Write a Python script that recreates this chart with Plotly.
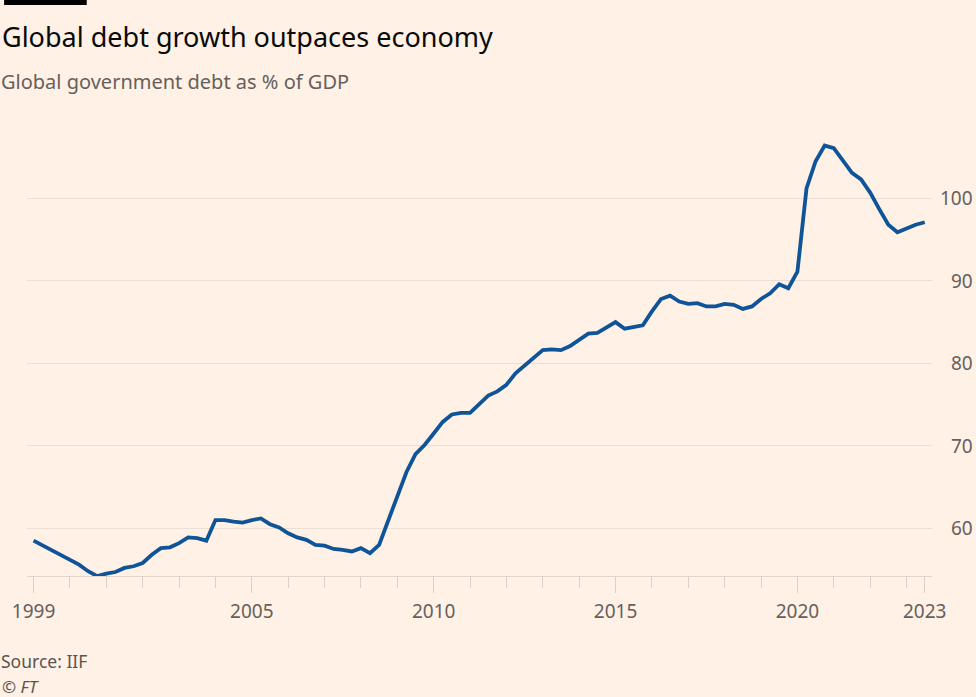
import plotly.graph_objects as go

# ---- data ----
years = list(range(1999, 2024))
debt_pct_gdp = [
    58.5, 57.9, 57.3, 56.8,   # 1999
    56.2, 55.6, 54.8, 54.2,   # 2000
    54.5, 54.7, 55.2, 55.4,   # 2001
    55.8, 56.8, 57.6, 57.7,   # 2002
    58.2, 58.9, 58.8, 58.5,   # 2003
    61.0, 61.0, 60.8, 60.7,   # 2004
    61.0, 61.2, 60.5, 60.1,   # 2005
    59.4, 58.9, 58.6, 58.0,   # 2006
    57.9, 57.5, 57.4, 57.2,   # 2007
    57.6, 57.0, 58.0, 61.0,   # 2008
    63.8, 66.8, 69.0, 70.1,   # 2009
    71.5, 72.9, 73.8, 74.0,   # 2010
    74.0, 75.0, 76.1, 76.6,   # 2011
    77.4, 78.8, 79.7, 80.6,   # 2012
    81.6, 81.7, 81.6, 82.1,   # 2013
    82.8, 83.6, 83.7, 84.3,   # 2014
    85.0, 84.2, 84.4, 84.6,   # 2015
    86.3, 87.8, 88.2, 87.5,   # 2016
    87.2, 87.3, 86.9, 86.9,   # 2017
    87.2, 87.1, 86.6, 86.9,   # 2018
    87.8, 88.5, 89.6, 89.1,   # 2019
    91.1, 101.2, 104.5, 106.4,  # 2020
    106.1, 104.6, 103.1, 102.3,  # 2021
    100.7, 98.7, 96.8, 95.9,   # 2022
    96.4, 96.8, 97.1,          # 2023
]
quarters = [f"{y}Q{q}" for y in years for q in range(1, 5)][:len(debt_pct_gdp)]
x_major_vals = [1999, 2005, 2010, 2015, 2020, 2023.5]
x_major_text = ["1999", "2005", "2010", "2015", "2020", "2023"]
y_ticks = [60, 70, 80, 90, 100]

# quarter -> decimal year position
x_pos = [int(s[:4]) + (int(s[-1]) - 1) / 4 for s in quarters]
minor_vals = [y for y in range(2000, 2024) if y not in x_major_vals]

BG = "#FFF1E5"
GREY = "#66605C"
FONT = "Noto Sans"

# pixel layout helpers
W, H = 976, 697
L, R, T, B = 23, 44, 120, 121
pw, ph = W - L - R, H - T - B


def px(xp):
    return (xp - L) / pw


def py(yp):
    return (H - B - yp) / ph


fig = go.Figure()
fig.add_trace(go.Scatter(
    x=x_pos, y=debt_pct_gdp, mode="lines",
    line=dict(color="#0F5499", width=3.8),
    hoverinfo="skip", showlegend=False,
))

annotations = [
    dict(text="Global debt growth outpaces economy", x=px(-4), y=py(37),
         font=dict(size=27, color="#0A0A0A", family=FONT)),
    dict(text="Global government debt as % of GDP", x=px(-5), y=py(81),
         font=dict(size=20, color=GREY, family=FONT)),
    dict(text="Source: IIF", x=px(-5), y=py(661),
         font=dict(size=17.5, color="#5A5552", family=FONT)),
    dict(text="<i>© FT</i>", x=px(-4), y=py(686),
         font=dict(size=17, color="#5A5552", family=FONT)),
]
for a in annotations:
    a.update(xref="paper", yref="paper", xanchor="left", yanchor="middle",
             showarrow=False)

for v in y_ticks:
    annotations.append(dict(
        text=str(v), x=px(975), y=v, xref="paper", yref="y",
        xanchor="right", yanchor="middle", showarrow=False,
        font=dict(size=19, color=GREY, family=FONT)))

fig.update_layout(
    width=W, height=H,
    margin=dict(l=L, r=R, t=T, b=B, pad=0),
    paper_bgcolor=BG, plot_bgcolor=BG,
    annotations=annotations,
    shapes=[dict(type="rect", xref="paper", yref="paper",
                 x0=px(0), x1=px(83), y0=py(5), y1=py(0),
                 fillcolor="#000000", line=dict(width=0))],
    xaxis=dict(
        range=[1998.82, 2023.70], showgrid=False, zeroline=False,
        showline=True, linecolor="#E2D5CA", linewidth=1,
        tickmode="array", tickvals=x_major_vals, ticktext=x_major_text,
        ticks="outside", ticklen=16, tickwidth=1, tickcolor="#DCCFC4",
        ticklabelstandoff=2,
        tickfont=dict(size=19, color=GREY, family=FONT),
        minor=dict(tickmode="array", tickvals=minor_vals, ticks="outside",
                   ticklen=11, tickwidth=1, tickcolor="#DCCFC4", showgrid=False),
    ),
    yaxis=dict(
        range=[54.22, 109.5], showticklabels=False, zeroline=False,
        tickmode="array", tickvals=y_ticks,
        showgrid=True, gridcolor="#EBDFD5", gridwidth=1, showline=False,
    ),
)

fig.write_html(
    "out.html",
    config={"displayModeBar": False},
    post_script="document.body.style.margin='0';document.body.style.overflow='hidden';",
)
